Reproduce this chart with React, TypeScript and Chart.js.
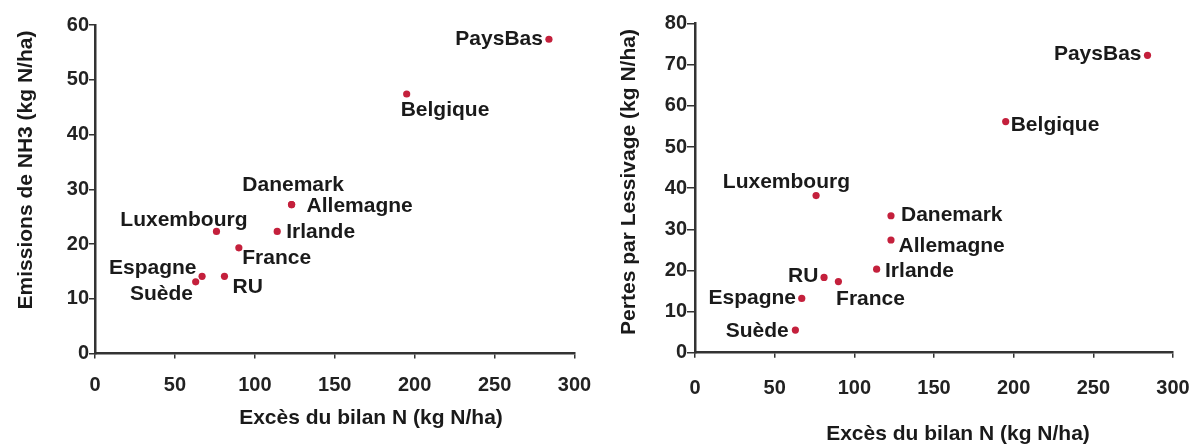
import React, { useEffect, useRef } from 'react';
import { Chart, registerables } from 'chart.js';

Chart.register(...registerables);

// ---------- DATA ----------
const countries = ['PaysBas', 'Belgique', 'Danemark', 'Allemagne', 'Irlande', 'Luxembourg', 'France', 'RU', 'Espagne', 'Suède'];
const excesBilanN = [284, 195, 123, 123, 114, 76, 90, 81, 67, 63];
const emissionsNH3 = [57.4, 47.4, 27.2, 27.2, 22.3, 22.3, 19.3, 14.1, 14.1, 13.1];
const pertesLessivage = [72.3, 56.2, 33.3, 27.4, 20.3, 38.2, 17.3, 18.3, 13.2, 5.5];

const xTickValues = [0, 50, 100, 150, 200, 250, 300];
const yTickValuesNH3 = [0, 10, 20, 30, 40, 50, 60];
const yTickValuesLess = [0, 10, 20, 30, 40, 50, 60, 70, 80];

const xTitle = 'Excès du bilan N (kg N/ha)';
const yTitleNH3 = 'Emissions de NH3 (kg N/ha)';
const yTitleLess = 'Pertes par Lessivage (kg N/ha)';

// ---------- STYLE / LAYOUT ----------
const FONT = '"Liberation Sans", Arial, Helvetica, sans-serif';
const TEXT_COLOR = '#1a1a1a';
const DOT_COLOR = '#c4203c';

type LabelPos = { align: 'left' | 'right' | 'center'; dx: number; dy: number };

const leftLabelLayout: Record<string, LabelPos> = {
  PaysBas: { align: 'right', dx: -6, dy: 0 },
  Belgique: { align: 'left', dx: -6, dy: 16 },
  Danemark: { align: 'center', dx: 1.5, dy: -19 },
  Allemagne: { align: 'left', dx: 15, dy: 1.5 },
  Irlande: { align: 'left', dx: 9, dy: 1 },
  Luxembourg: { align: 'right', dx: 31, dy: -11.7 },
  France: { align: 'left', dx: 3.4, dy: 10.6 },
  RU: { align: 'left', dx: 8, dy: 11 },
  Espagne: { align: 'right', dx: -5.6, dy: -8 },
  'Suède': { align: 'right', dx: -2.7, dy: 12.7 },
};

const rightLabelLayout: Record<string, LabelPos> = {
  PaysBas: { align: 'right', dx: -6, dy: -1.4 },
  Belgique: { align: 'left', dx: 5, dy: 3.3 },
  Danemark: { align: 'left', dx: 10, dy: -1 },
  Allemagne: { align: 'left', dx: 7.6, dy: 6 },
  Irlande: { align: 'left', dx: 8.4, dy: 2.4 },
  Luxembourg: { align: 'center', dx: -29.7, dy: -13 },
  France: { align: 'left', dx: -2.3, dy: 17.6 },
  RU: { align: 'right', dx: -5.7, dy: -1.3 },
  Espagne: { align: 'right', dx: -5.7, dy: 0 },
  'Suède': { align: 'right', dx: -6.7, dy: 0.7 },
};

type PanelProps = {
  width: number;
  height: number;
  yValues: number[];
  yTicks: number[];
  yTitle: string;
  labelLayout: Record<string, LabelPos>;
  area: { left: number; right: number; top: number; bottom: number };
  xTitlePos: { x: number; y: number };
  yTitlePos: { x: number; y: number };
  xTickPadding: number;
  yTickLength: number;
};

function Panel(props: PanelProps) {
  const ref = useRef<HTMLCanvasElement | null>(null);

  useEffect(() => {
    const canvas = ref.current;
    if (!canvas) return;
    const { width, height, yValues, yTicks, yTitle, labelLayout, area, xTitlePos, yTitlePos, xTickPadding, yTickLength } = props;

    const points = excesBilanN.map((x, i) => ({ x, y: yValues[i] }));

    const labelPlugin = {
      id: 'pointLabels',
      afterDatasetsDraw(chart: any) {
        const ctx = chart.ctx;
        const meta = chart.getDatasetMeta(0);
        ctx.save();
        ctx.font = `bold 21px ${FONT}`;
        ctx.fillStyle = TEXT_COLOR;
        ctx.textBaseline = 'middle';
        meta.data.forEach((el: any, i: number) => {
          const name = countries[i];
          const pos = labelLayout[name];
          ctx.textAlign = pos.align;
          ctx.fillText(name, el.x + pos.dx, el.y + pos.dy);
        });
        ctx.restore();
      },
    };

    const titlePlugin = {
      id: 'axisTitles',
      afterDraw(chart: any) {
        const ctx = chart.ctx;
        ctx.save();
        ctx.font = `bold 21px ${FONT}`;
        ctx.fillStyle = TEXT_COLOR;
        ctx.textAlign = 'center';
        ctx.textBaseline = 'middle';
        ctx.fillText(xTitle, xTitlePos.x, xTitlePos.y);
        ctx.translate(yTitlePos.x, yTitlePos.y);
        ctx.rotate(-Math.PI / 2);
        ctx.fillText(yTitle, 0, 0);
        ctx.restore();
      },
    };

    const chart = new Chart(canvas, {
      type: 'scatter',
      data: {
        datasets: [
          {
            data: points,
            backgroundColor: DOT_COLOR,
            borderWidth: 0,
            pointRadius: 3.6,
          },
        ],
      },
      options: {
        responsive: false,
        animation: false,
        devicePixelRatio: 1,
        layout: {
          padding: { left: 0, top: area.top, right: width - area.right, bottom: 0 },
        },
        plugins: {
          legend: { display: false },
          tooltip: { enabled: false },
        },
        scales: {
          x: {
            type: 'linear',
            min: 0,
            max: 300,
            afterBuildTicks: (scale: any) => {
              scale.ticks = xTickValues.map((v) => ({ value: v }));
            },
            afterFit: (scale: any) => {
              scale.height = height - area.bottom;
              scale.paddingLeft = 0;
              scale.paddingRight = 0;
            },
            border: { display: true, color: '#333', width: 2.5 },
            grid: { drawOnChartArea: false, drawTicks: true, tickLength: 5, color: '#333', lineWidth: 1.5 },
            ticks: {
              font: { family: FONT, size: 20, weight: 'bold' },
              color: '#222',
              padding: xTickPadding,
              maxRotation: 0,
              autoSkip: false,
            },
          },
          y: {
            type: 'linear',
            min: 0,
            max: yTicks[yTicks.length - 1],
            afterBuildTicks: (scale: any) => {
              scale.ticks = yTicks.map((v) => ({ value: v }));
            },
            afterFit: (scale: any) => {
              scale.width = area.left;
              scale.paddingTop = 0;
              scale.paddingBottom = 0;
            },
            border: { display: true, color: '#333', width: 2.5 },
            grid: { drawOnChartArea: false, drawTicks: true, tickLength: yTickLength, color: '#333', lineWidth: 1.5 },
            ticks: {
              font: { family: FONT, size: 20, weight: 'bold' },
              color: '#222',
              padding: 0,
              autoSkip: false,
            },
          },
        },
      },
      plugins: [labelPlugin, titlePlugin],
    } as any);

    return () => chart.destroy();
  }, []);

  return <canvas ref={ref} width={props.width} height={props.height} style={{ display: 'block', width: props.width, height: props.height }} />;
}

export default function App() {
  return (
    <div style={{ position: 'absolute', left: 0, top: 0, width: 1197, height: 446, display: 'flex', background: '#fff' }}>
      <Panel
        width={600}
        height={446}
        yValues={emissionsNH3}
        yTicks={yTickValuesNH3}
        yTitle={yTitleNH3}
        labelLayout={leftLabelLayout}
        area={{ left: 95, right: 574.5, top: 25, bottom: 353.5 }}
        xTitlePos={{ x: 371, y: 418 }}
        yTitlePos={{ x: 26.5, y: 170 }}
        xTickPadding={14.5}
        yTickLength={6}
      />
      <Panel
        width={597}
        height={446}
        yValues={pertesLessivage}
        yTicks={yTickValuesLess}
        yTitle={yTitleLess}
        labelLayout={rightLabelLayout}
        area={{ left: 95, right: 573, top: 23.7, bottom: 352.7 }}
        xTitlePos={{ x: 358, y: 434 }}
        yTitlePos={{ x: 29, y: 182 }}
        xTickPadding={19}
        yTickLength={8}
      />
    </div>
  );
}
